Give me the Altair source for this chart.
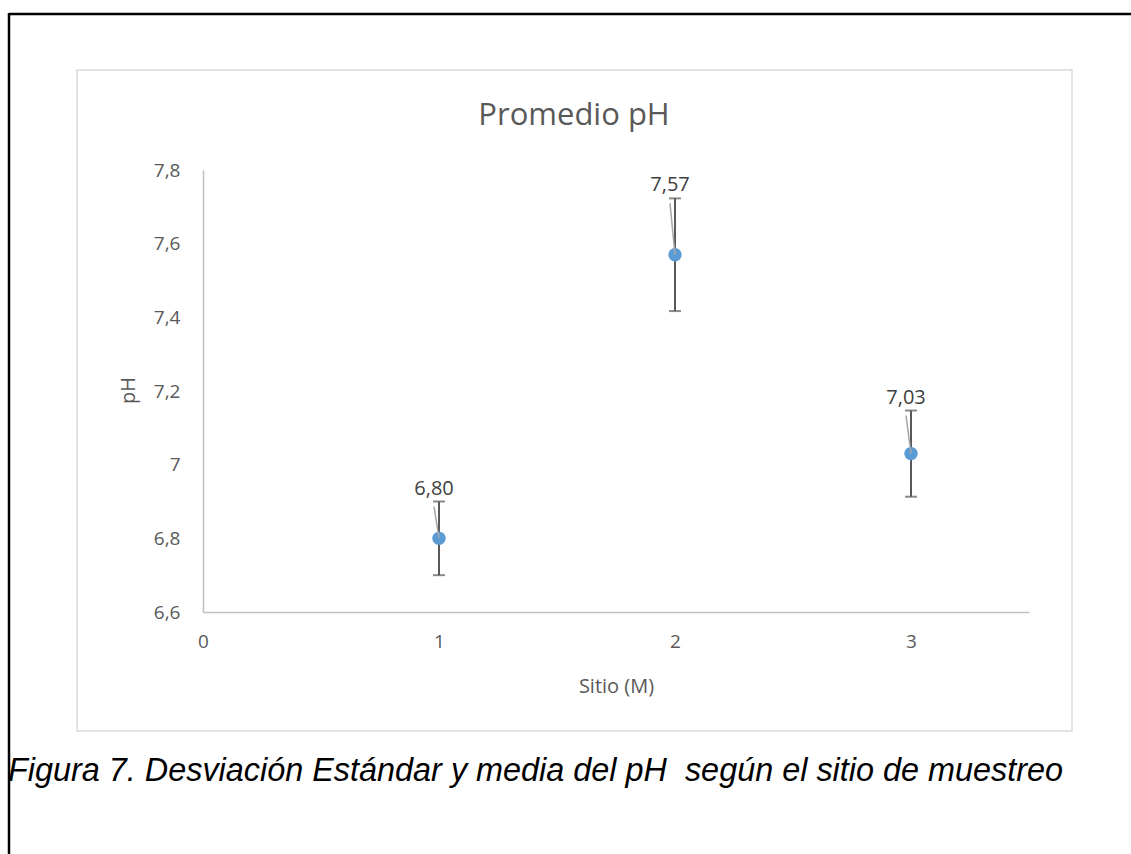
import altair as alt
import pandas as pd

# Mean pH and standard deviation per sampling site
sitio = [1, 2, 3]
media_ph = [6.80, 7.57, 7.03]
desv_ph = [0.10, 0.153, 0.117]

y_ticks = [6.6, 6.8, 7.0, 7.2, 7.4, 7.6, 7.8]
x_ticks = [0, 1, 2, 3]

titulo = "Promedio pH"
titulo_x = "Sitio (M)"
titulo_y = "pH"
# a no-break space keeps the double space after "pH" in SVG text
leyenda_figura = "Figura 7. Desviación Estándar y media del pH\u00a0 según el sitio de muestreo"

df = pd.DataFrame({"Sitio": sitio, "media": media_ph, "desv": desv_ph})

W, H = 826, 442
TXT = "#595959"
FONT = "Open Sans"

base = alt.Chart(df).transform_calculate(
    lo="datum.media - datum.desv",
    hi="datum.media + datum.desv",
    etiqueta="replace(format(datum.media, '.2f'), '.', ',')",
)

x_enc = alt.X(
    "Sitio:Q",
    scale=alt.Scale(domain=[0, 3.5], nice=False, zero=False),
    axis=alt.Axis(
        values=x_ticks, format="d", title=titulo_x, grid=False, ticks=False, tickSize=0,
        domainColor="#bfbfbf", domainWidth=1.5,
        labelFont=FONT, labelFontSize=19, labelColor=TXT, labelPadding=20,
        labelFlush=False,
        titleFont=FONT, titleFontSize=20, titleColor=TXT, titleFontWeight="normal",
        titleX=413, titleY=74, titleBaseline="middle",
    ),
)
y_scale = alt.Scale(domain=[6.6, 7.8], nice=False, zero=False)
y_enc = alt.Y(
    "media:Q",
    scale=y_scale,
    axis=alt.Axis(
        values=y_ticks, title=titulo_y, grid=False, ticks=False, tickSize=0,
        domainColor="#bfbfbf", domainWidth=1.5,
        labelFont=FONT, labelFontSize=19, labelColor=TXT, labelPadding=23,
        labelExpr="replace(format(datum.value, '.1~f'), '.', ',')",
        titleFont=FONT, titleFontSize=20, titleColor=TXT, titleFontWeight="normal",
        titleX=-75, titleY=220, titleBaseline="middle", titleAngle=270,
    ),
)

barras = base.mark_rule(color="#595959", strokeWidth=2).encode(
    x=x_enc, y=alt.Y("lo:Q", scale=y_scale), y2="hi:Q"
)
tope = base.mark_tick(orient="horizontal", size=12, thickness=2, color="#595959").encode(
    x="Sitio:Q", y=alt.Y("hi:Q", scale=y_scale)
)
base_tope = base.mark_tick(orient="horizontal", size=12, thickness=2, color="#595959").encode(
    x="Sitio:Q", y=alt.Y("lo:Q", scale=y_scale)
)
puntos = base.mark_circle(size=180, color="#5b9bd5", opacity=1).encode(x="Sitio:Q", y=y_enc)
guias = base.mark_rule(color="#a6a6a6", strokeWidth=1.5, x2Offset=-5, y2Offset=5).encode(
    x="Sitio:Q", y="media:Q", x2="Sitio:Q", y2="hi:Q"
)
etiquetas = base.mark_text(
    font=FONT, fontSize=20, color="#404040", dx=-5, dy=-7, baseline="alphabetic"
).encode(x="Sitio:Q", y=alt.Y("hi:Q", scale=y_scale), text="etiqueta:N")

uno = alt.Data(values=[{"k": 1}])

texto_titulo = alt.Chart(uno).mark_text(
    font=FONT, fontSize=31, color=TXT, baseline="alphabetic", align="center"
).encode(x=alt.value(371), y=alt.value(-45), text=alt.value(titulo))

marco = alt.Chart(uno).mark_rect(
    fillOpacity=0, stroke="#d9d9d9", strokeWidth=1.5
).encode(x=alt.value(-126), x2=alt.value(869), y=alt.value(-100), y2=alt.value(561))

borde_sup = alt.Chart(uno).mark_rule(color="black", strokeWidth=2.5).encode(
    x=alt.value(-194), x2=alt.value(940), y=alt.value(-156)
)
borde_izq = alt.Chart(uno).mark_rule(color="black", strokeWidth=2.5).encode(
    x=alt.value(-194), y=alt.value(-157), y2=alt.value(700)
)

texto_figura = alt.Chart(uno).mark_text(
    font="Liberation Sans", fontSize=32.4, fontStyle="italic", color="black",
    baseline="alphabetic", align="left",
).encode(x=alt.value(-195), y=alt.value(611), text=alt.value(leyenda_figura))

chart = alt.layer(
    marco, borde_sup, borde_izq, texto_titulo, texto_figura,
    barras, tope, base_tope, puntos, guias, etiquetas,
).properties(
    width=W, height=H,
    padding={"left": 203, "top": 170, "right": 102, "bottom": 242},
    autosize="none",
).configure_view(stroke=None)

chart.save("out.html", embed_options={"renderer": "svg", "actions": False})
